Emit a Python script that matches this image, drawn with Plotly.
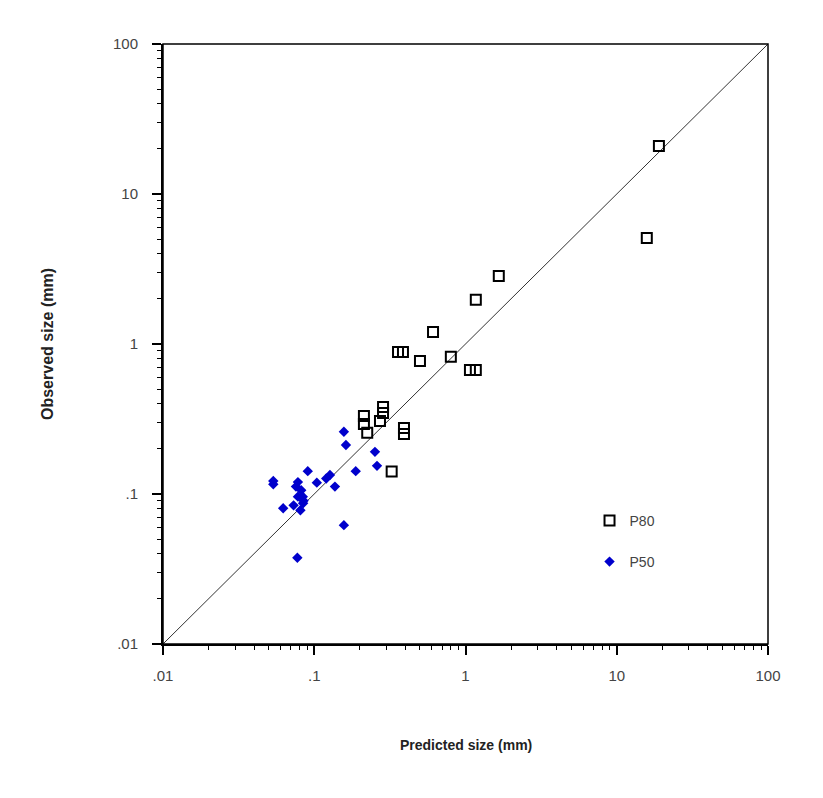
import plotly.graph_objects as go

# P80 data (predicted, observed) in mm
p80_pred = [19.0, 15.8, 1.66, 1.17, 0.61, 0.358, 0.386, 0.50, 0.80, 1.07, 1.17,
            0.285, 0.285, 0.272, 0.213, 0.213, 0.224, 0.392, 0.392, 0.325]
p80_obs = [20.9, 5.09, 2.84, 1.97, 1.2, 0.885, 0.885, 0.77, 0.823, 0.67, 0.67,
           0.38, 0.347, 0.307, 0.331, 0.293, 0.256, 0.275, 0.251, 0.141]

# P50 data
p50_pred = [0.157, 0.162, 0.252, 0.26, 0.188, 0.0906, 0.0536, 0.0536, 0.127, 0.12,
            0.137, 0.104, 0.0757, 0.082, 0.078, 0.0844, 0.073, 0.0623, 0.081, 0.084,
            0.157, 0.0773, 0.078, 0.085]
p50_obs = [0.26, 0.212, 0.191, 0.154, 0.142, 0.142, 0.122, 0.116, 0.134, 0.127,
           0.112, 0.119, 0.112, 0.106, 0.096, 0.0867, 0.084, 0.0803, 0.078, 0.096,
           0.062, 0.0376, 0.12, 0.09]

line_vals = [0.01, 100]
tick_vals = [0.01, 0.1, 1, 10, 100]
tick_text = [".01", ".1", "1", "10", "100"]
minor_vals = [m * 10 ** e for e in range(-2, 2) for m in range(2, 10)]

fig = go.Figure()
fig.add_trace(go.Scatter(x=line_vals, y=line_vals, mode="lines",
                         line=dict(color="#333333", width=1), showlegend=False,
                         hoverinfo="skip"))
fig.add_trace(go.Scatter(x=p80_pred, y=p80_obs, mode="markers", name="P80",
                         legendgroup="a",
                         marker=dict(symbol="square-open", size=10, color="black",
                                     line=dict(width=2, color="black"))))
fig.add_trace(go.Scatter(x=p50_pred, y=p50_obs, mode="markers", name="P50",
                         legendgroup="b",
                         marker=dict(symbol="diamond", size=8, color="#0000CC")))

axis_common = dict(type="log", range=[-2, 2], tickvals=tick_vals, ticktext=tick_text,
                   ticks="outside", ticklen=9, tickwidth=1.5, tickcolor="black",
                   showline=True, linecolor="black", linewidth=2, showgrid=False,
                   zeroline=False,
                   tickfont=dict(family="Liberation Sans, Arial", size=15, color="#444444"),
                   minor=dict(tickvals=minor_vals, ticks="outside", ticklen=4,
                              tickcolor="black", tickwidth=1, showgrid=False))
fig.update_xaxes(**axis_common, ticklabelstandoff=8)
fig.update_yaxes(**axis_common, ticklabelstandoff=11)

fig.add_shape(type="rect", xref="x domain", yref="y domain", x0=0, x1=1, y0=0, y1=1,
              line=dict(color="black", width=1.5))

fig.add_annotation(text="<b>Predicted size (mm)</b>", xref="paper", yref="paper",
                   x=0.5, y=(644 - 745) / 600, xanchor="center", yanchor="middle",
                   showarrow=False,
                   font=dict(family="Liberation Sans, Arial", size=14, color="#222222"))
fig.add_annotation(text="<b>Observed size (mm)</b>", xref="paper", yref="paper",
                   x=(47 - 163) / 605, y=0.5, xanchor="center", yanchor="middle",
                   textangle=-90, showarrow=False,
                   font=dict(family="Liberation Sans, Arial", size=16, color="#222222"))

fig.update_layout(
    width=823, height=798,
    margin=dict(l=163, r=55, t=44, b=154),
    plot_bgcolor="white", paper_bgcolor="white",
    legend=dict(x=0.705, y=0.232, xanchor="left", yanchor="top",
                bgcolor="rgba(0,0,0,0)", tracegroupgap=20,
                font=dict(family="Liberation Sans, Arial", size=14, color="#444444")),
)

fig.write_html("out.html")
